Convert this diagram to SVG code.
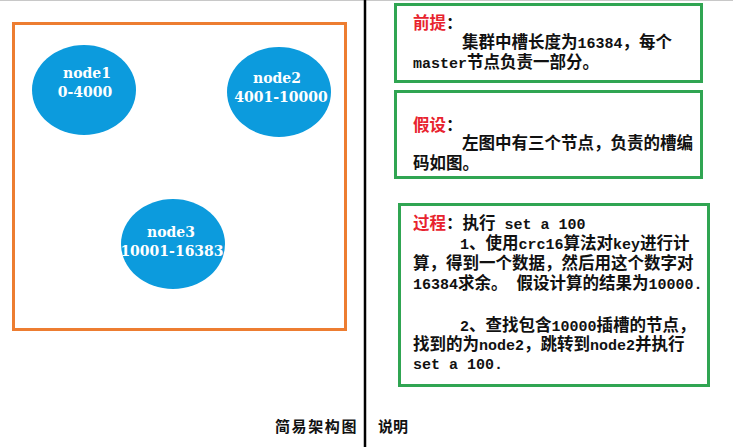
<svg xmlns="http://www.w3.org/2000/svg" width="733" height="447" viewBox="0 0 733 447">
<style>
.node{fill:#0C9BDD}
.nl{fill:#fff;font-family:"DejaVu Serif","Liberation Serif",serif;font-weight:bold;font-size:14px;text-anchor:middle}
.box{fill:#fff;stroke:#30A552;stroke-width:3}
.t{font-family:"Liberation Mono","Noto Sans CJK SC",monospace;font-size:15px;font-weight:bold;fill:#111}
.c{font-family:"Noto Sans CJK SC",sans-serif;font-size:16.5px}
.r{fill:#E8232E}
.lbl{font-family:"Noto Sans CJK SC",sans-serif;font-size:15px;font-weight:bold;fill:#111}
</style>
<rect width="733" height="447" fill="#fff"/>
<line x1="0" y1="0.5" x2="733" y2="0.5" stroke="#c8c8c8" stroke-width="1"/>
<line x1="365" y1="0" x2="365" y2="447" stroke="#000" stroke-width="2.5"/>
<g id="cluster">
<rect x="13.5" y="23.5" width="332" height="306" fill="none" stroke="#ED7D31" stroke-width="3"/>
</g>
<g id="node1">
<ellipse class="node" cx="84" cy="90" rx="52" ry="45"/>
<text class="nl" x="87" y="78">node1</text>
<text class="nl" x="85" y="97">0-4000</text>
</g>
<g id="node2">
<ellipse class="node" cx="279" cy="92" rx="52" ry="45"/>
<text class="nl" x="277" y="83">node2</text>
<text class="nl" x="281" y="102">4001-10000</text>
</g>
<g id="node3">
<ellipse class="node" cx="173" cy="244" rx="52" ry="45"/>
<text class="nl" x="171" y="237">node3</text>
<text class="nl" x="172" y="256">10001-16383</text>
</g>
<g id="connectors"/>
<g id="premise">
<rect class="box" x="395.5" y="4.5" width="306" height="77"/>
<text class="t" x="413" y="29"><tspan class="c r">前提</tspan><tspan class="c">：</tspan></text>
<text class="t" x="462" y="48"><tspan class="c">集群中槽长度为</tspan>16384<tspan class="c">，每个</tspan></text>
<text class="t" x="413" y="68">master<tspan class="c">节点负责一部分。</tspan></text>
</g>
<g id="assumption">
<rect class="box" x="395.5" y="91.5" width="306" height="86"/>
<text class="t" x="413" y="131"><tspan class="c r">假设</tspan><tspan class="c">：</tspan></text>
<text class="t" x="462" y="149"><tspan class="c">左图中有三个节点，负责的槽编</tspan></text>
<text class="t" x="413" y="169"><tspan class="c">码如图。</tspan></text>
</g>
<g id="process">
<rect class="box" x="399.5" y="204.5" width="309" height="181"/>
<text class="t" x="413" y="229"><tspan class="c r">过程</tspan><tspan class="c">：执行</tspan> set a 100</text>
<text class="t" x="460" y="249">1<tspan class="c">、使用</tspan>crc16<tspan class="c">算法对</tspan>key<tspan class="c">进行计</tspan></text>
<text class="t" x="413" y="269"><tspan class="c">算，得到一个数据，然后用这个数字对</tspan></text>
<text class="t" x="413" y="289">16384<tspan class="c">求余。</tspan> <tspan class="c">假设计算的结果为</tspan>10000.</text>
<text class="t" x="460" y="331">2<tspan class="c">、查找包含</tspan>10000<tspan class="c">插槽的节点，</tspan></text>
<text class="t" x="413" y="350"><tspan class="c">找到的为</tspan>node2<tspan class="c">，跳转到</tspan>node2<tspan class="c">并执行</tspan></text>
<text class="t" x="413" y="369">set a 100.</text>
</g>
<g id="labels">
<text class="lbl" x="275" y="432" letter-spacing="1.6">简易架构图</text>
<text class="lbl" x="378" y="432">说明</text>
</g>
</svg>
